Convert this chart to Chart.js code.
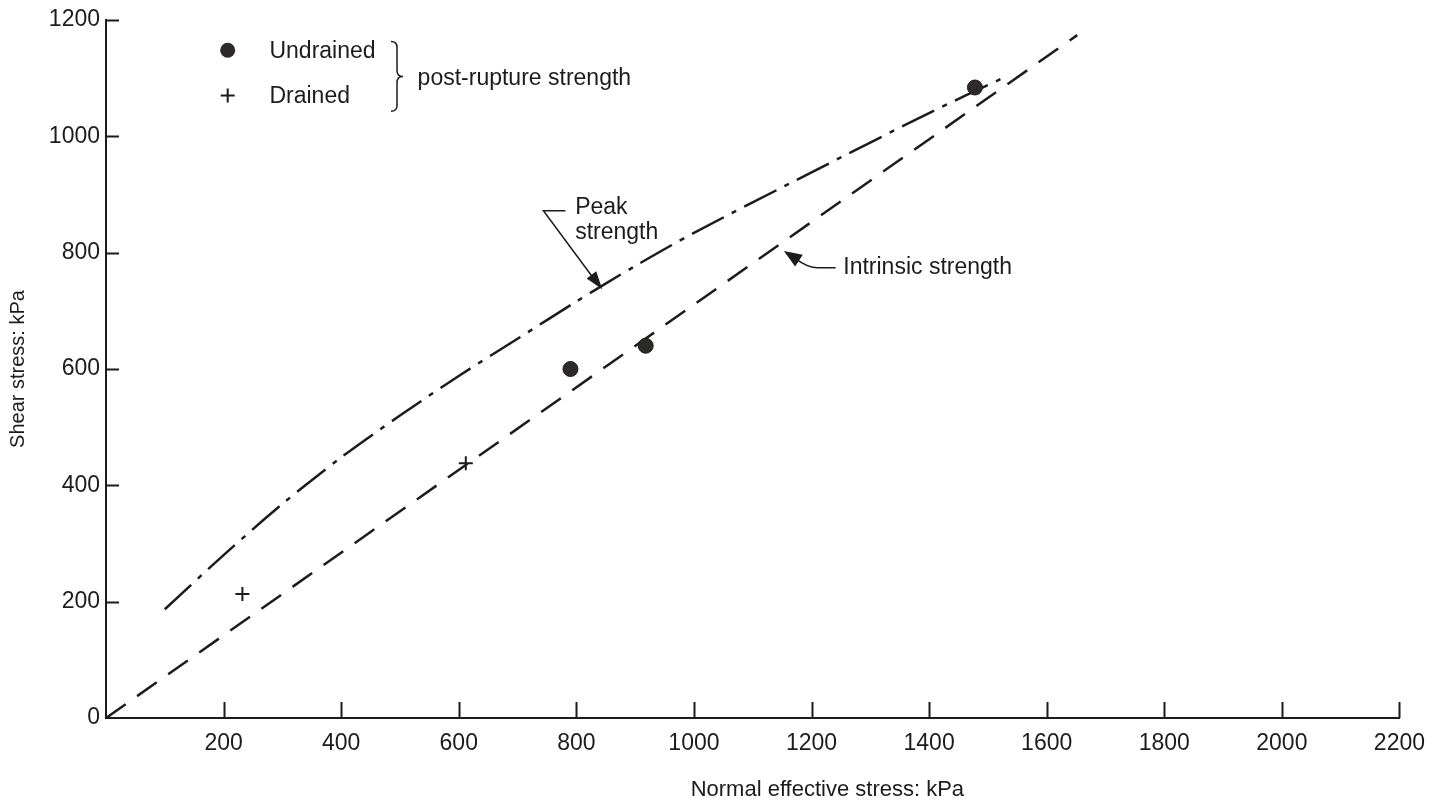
<!DOCTYPE html>
<html>
<head>
<meta charset="utf-8">
<title>Shear stress vs normal effective stress</title>
<script src="https://cdn.jsdelivr.net/npm/chart.js@4.4.0/dist/chart.umd.min.js"></script>
<style>
  html, body { margin: 0; padding: 0; background: #fff; }
  #wrap { width: 1437px; height: 806px; position: relative; }
</style>
</head>
<body>
<div id="wrap"><canvas id="shearChart"></canvas></div>
<script>
const FONT = "'Liberation Sans', Arial, sans-serif";
const INK = '#1c1c1c';

// axis ticks (kPa)
const xTickValues = [0, 200, 400, 600, 800, 1000, 1200, 1400, 1600, 1800, 2000, 2200];
const yTickValues = [0, 200, 400, 600, 800, 1000, 1200];

// post-rupture strength, undrained tests
const undrainedX = [790, 918, 1478];
const undrainedY = [600, 640, 1084];

// post-rupture strength, drained tests
const drainedX = [232, 612];
const drainedY = [213, 438];

// intrinsic strength envelope
const intrinsicX = [0, 1652];
const intrinsicY = [0, 1174];

// peak strength envelope
const peakX = [100, 200, 300, 400, 500, 600, 700, 800, 900, 1000, 1200, 1400, 1525];
const peakY = [187, 280, 368, 448, 520, 588, 652, 716, 777, 834, 938, 1040, 1100];

const toPoints = (xs, ys) => xs.map((x, i) => ({ x: x, y: ys[i] }));

// inward tick marks on both axes
const innerTicks = {
    id: 'innerTicks',
    afterDraw(chart) {
        const ctx = chart.ctx;
        const xs = chart.scales.x, ys = chart.scales.y;
        const area = chart.chartArea;
        ctx.save();
        ctx.strokeStyle = INK;
        ctx.lineWidth = 2;
        ctx.beginPath();
        xTickValues.forEach(v => {
            if (v === 0) return;
            const px = Math.round(xs.getPixelForValue(v)) + 0.5;
            ctx.moveTo(px, area.bottom);
            ctx.lineTo(px, area.bottom - 16);
        });
        yTickValues.forEach(v => {
            if (v === 0) return;
            const py = Math.round(ys.getPixelForValue(v)) + 0.5;
            ctx.moveTo(area.left, py);
            ctx.lineTo(area.left + 13, py);
        });
        ctx.stroke();
        ctx.restore();
    }
};

function arrowHead(ctx, fromX, fromY, tipX, tipY, len, half) {
    const a = Math.atan2(tipY - fromY, tipX - fromX);
    ctx.beginPath();
    ctx.moveTo(tipX, tipY);
    ctx.lineTo(tipX - len * Math.cos(a) + half * Math.sin(a), tipY - len * Math.sin(a) - half * Math.cos(a));
    ctx.lineTo(tipX - len * Math.cos(a) - half * Math.sin(a), tipY - len * Math.sin(a) + half * Math.cos(a));
    ctx.closePath();
    ctx.fill();
}

// legend, labels and arrows, placed in data units
const notes = {
    id: 'notes',
    afterDraw(chart) {
        const ctx = chart.ctx;
        const xs = chart.scales.x, ys = chart.scales.y;
        const area = chart.chartArea;
        const X = v => xs.getPixelForValue(v);
        const Y = v => ys.getPixelForValue(v);
        ctx.save();
        ctx.fillStyle = INK;
        ctx.strokeStyle = INK;
        ctx.font = '23px ' + FONT;
        ctx.textBaseline = 'middle';
        ctx.textAlign = 'left';

        // legend
        ctx.fillStyle = '#2e2a2a';
        ctx.beginPath();
        ctx.arc(X(207), Y(1148), 7.5, 0, Math.PI * 2);
        ctx.fill();
        ctx.lineWidth = 2;
        ctx.beginPath();
        ctx.moveTo(X(207) - 7, Y(1070)); ctx.lineTo(X(207) + 7, Y(1070));
        ctx.moveTo(X(207), Y(1070) - 7); ctx.lineTo(X(207), Y(1070) + 7);
        ctx.stroke();
        ctx.fillStyle = INK;
        ctx.fillText('Undrained', X(278), Y(1145));
        ctx.fillText('Drained', X(278), Y(1068));
        ctx.fillText('post-rupture strength', X(530), Y(1099));

        // brace
        const bx = X(495), bt = Y(1163), bb = Y(1043), bm = (bt + bb) / 2;
        ctx.lineWidth = 1.5;
        ctx.beginPath();
        ctx.moveTo(bx - 6, bt);
        ctx.quadraticCurveTo(bx, bt, bx, bt + 6);
        ctx.lineTo(bx, bm - 6);
        ctx.quadraticCurveTo(bx, bm, bx + 6, bm);
        ctx.quadraticCurveTo(bx, bm, bx, bm + 6);
        ctx.lineTo(bx, bb - 6);
        ctx.quadraticCurveTo(bx, bb, bx - 6, bb);
        ctx.stroke();

        // peak strength label + arrow
        ctx.fillText('Peak', X(798), Y(877));
        ctx.fillText('strength', X(798), Y(834));
        const lx = X(744), ly = Y(872), tx = X(844), ty = Y(737);
        ctx.lineWidth = 1.5;
        ctx.beginPath();
        ctx.moveTo(lx + 22, ly);
        ctx.lineTo(lx, ly);
        ctx.lineTo(tx - 8, ty - 10);
        ctx.stroke();
        arrowHead(ctx, lx, ly, tx, ty, 18, 6);

        // intrinsic strength label + arrow
        ctx.fillText('Intrinsic strength', X(1254), Y(774));
        const sx = X(1241), sy = Y(774), ix = X(1153), iy = Y(803);
        ctx.beginPath();
        ctx.moveTo(sx, sy);
        ctx.lineTo(sx - 18, sy);
        ctx.quadraticCurveTo(sx - 28, sy, ix + 12, iy + 8);
        ctx.stroke();
        arrowHead(ctx, ix + 20, iy + 13, ix, iy, 18, 7);

        // x axis title
        ctx.font = '22px ' + FONT;
        ctx.textAlign = 'center';
        ctx.fillText('Normal effective stress: kPa', X(1227), area.bottom + 72);
        ctx.restore();
    }
};

const ctx = document.getElementById('shearChart').getContext('2d');

new Chart(ctx, {
    type: 'scatter',
    data: {
        datasets: [
            {
                label: 'Undrained',
                data: toPoints(undrainedX, undrainedY),
                pointStyle: 'circle',
                pointRadius: 7.5,
                backgroundColor: '#2e2a2a',
                borderColor: '#1a1a1a',
                borderWidth: 1
            },
            {
                label: 'Drained',
                data: toPoints(drainedX, drainedY),
                pointStyle: 'cross',
                pointRadius: 7,
                borderColor: INK,
                borderWidth: 2
            },
            {
                label: 'Intrinsic strength',
                data: toPoints(intrinsicX, intrinsicY),
                showLine: true,
                pointRadius: 0,
                borderColor: INK,
                borderWidth: 2.5,
                borderDash: [24, 14]
            },
            {
                label: 'Peak strength',
                data: toPoints(peakX, peakY),
                showLine: true,
                tension: 0.3,
                pointRadius: 0,
                borderColor: INK,
                borderWidth: 2.5,
                borderDash: [36, 9, 5, 9]
            }
        ]
    },
    options: {
        responsive: true,
        maintainAspectRatio: false,
        animation: false,
        layout: { padding: { top: 20, right: 33, left: 0, bottom: 0 } },
        plugins: {
            legend: { display: false },
            tooltip: { enabled: false }
        },
        scales: {
            x: {
                type: 'linear',
                min: 0,
                max: 2200,
                afterFit: s => { s.height = 88; },
                afterBuildTicks: s => { s.ticks = xTickValues.map(v => ({ value: v })); },
                border: { display: true, color: INK, width: 2 },
                grid: { drawOnChartArea: false, drawTicks: false },
                ticks: {
                    padding: 12,
                    color: INK,
                    font: { family: FONT, size: 23 },
                    maxRotation: 0,
                    callback: v => (v === 0 ? '' : String(v))
                }
            },
            y: {
                type: 'linear',
                min: 0,
                max: 1200,
                afterFit: s => { s.width = 106; },
                afterBuildTicks: s => { s.ticks = yTickValues.map(v => ({ value: v })); },
                border: { display: true, color: INK, width: 2 },
                grid: { drawOnChartArea: false, drawTicks: false },
                ticks: {
                    padding: 6,
                    color: INK,
                    font: { family: FONT, size: 23 },
                    callback: v => String(v)
                },
                title: {
                    display: true,
                    text: 'Shear stress: kPa',
                    color: INK,
                    font: { family: FONT, size: 20 },
                    padding: { top: 6, bottom: 0 }
                }
            }
        }
    },
    plugins: [innerTicks, notes]
});
</script>
</body>
</html>
